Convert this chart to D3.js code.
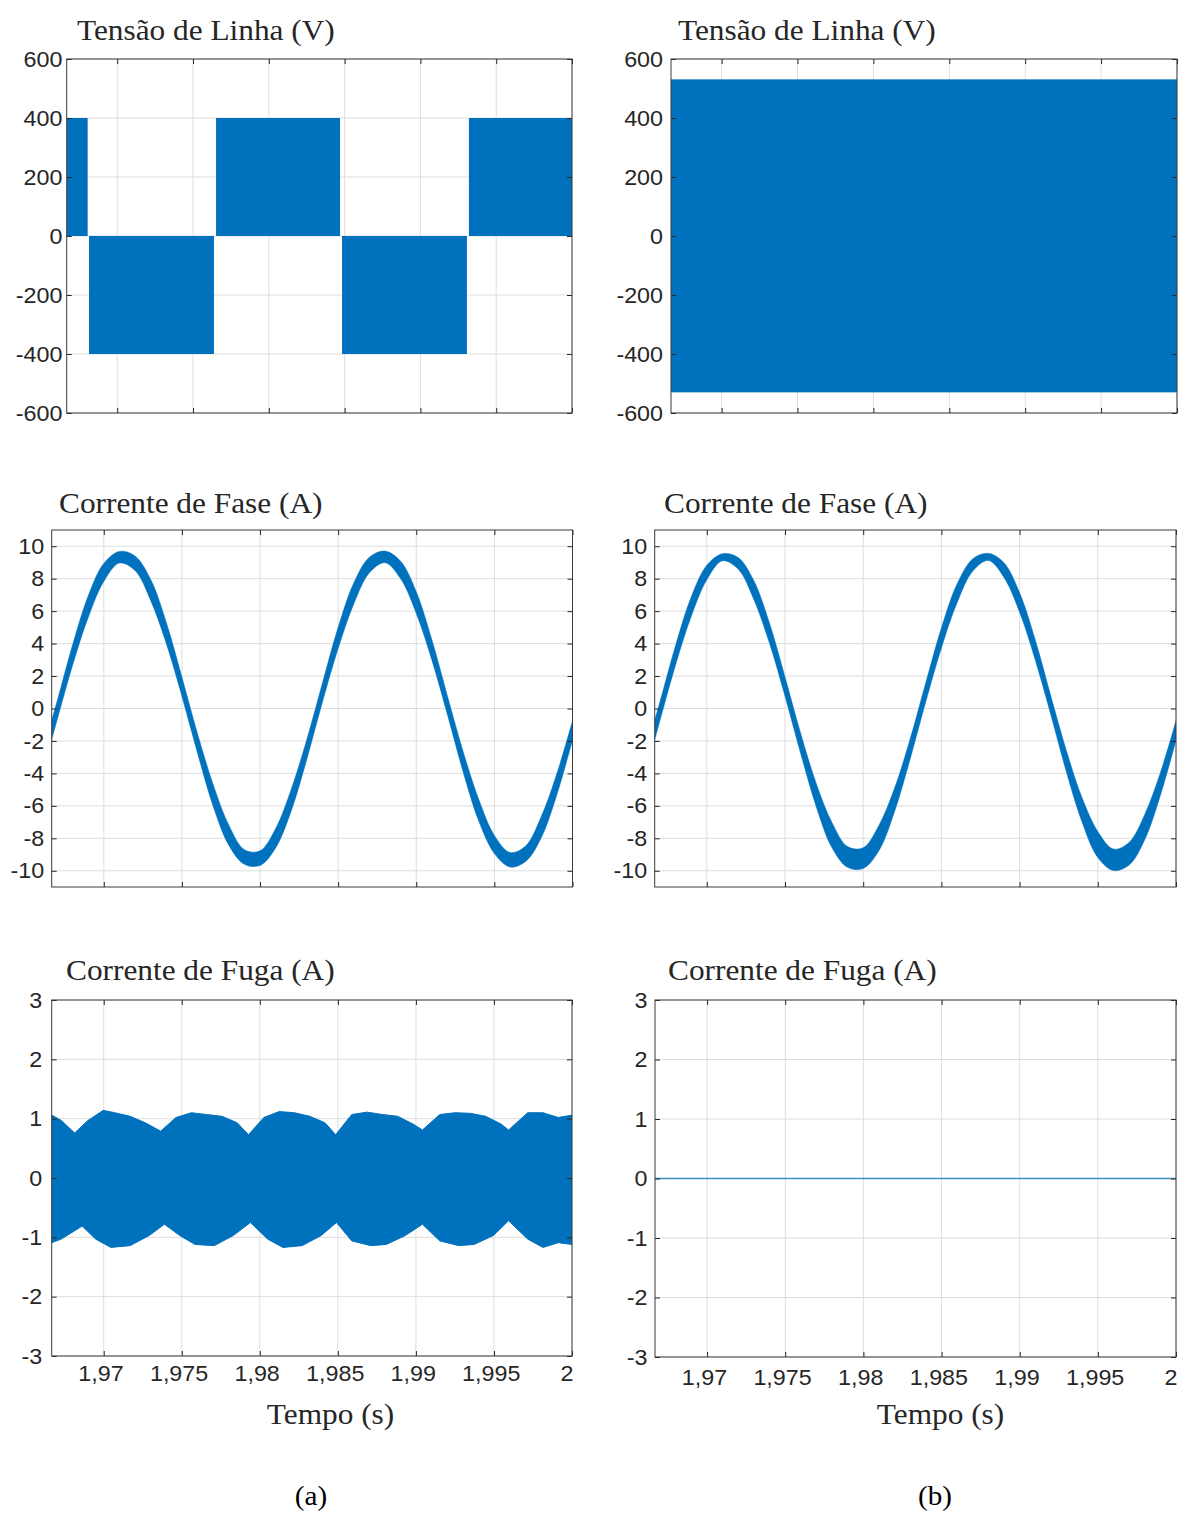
<!DOCTYPE html>
<html>
<head>
<meta charset="utf-8">
<script src="https://cdn.jsdelivr.net/npm/d3@7"></script>
<style>
  body { margin: 0; background: #fff; }
  svg { display: block; }
</style>
</head>
<body>
<div id="chart"></div>
<script>
var width = 1179,
    height = 1513,
    tStart = 1.966667,
    tEnd = 2,
    blue = "#0072BD";

// x axis (tempo)
var timeTicks = [1.97, 1.975, 1.98, 1.985, 1.99, 1.995, 2];
var timeLabels = ["1,97", "1,975", "1,98", "1,985", "1,99", "1,995", "2"];

// y ticks
var voltTicks = [-600, -400, -200, 0, 200, 400, 600];
var phaseTicks = [-10, -8, -6, -4, -2, 0, 2, 4, 6, 8, 10];
var leakTicks = [-3, -2, -1, 0, 1, 2, 3];

// tensao de linha (a): PWM blocks
var vBlockStart = [1.966667, 1.96814, 1.97652, 1.98483, 1.99320];
var vBlockEnd   = [1.96805, 1.97638, 1.98470, 1.99307, 2.0];
var vBlockLow   = [0, -400, 0, -400, 0];
var vBlockHigh  = [400, 0, 400, 0, 400];

// tensao de linha (b): one band
var vBandStart = [1.966667];
var vBandEnd   = [2.0];
var vBandLow   = [-530];
var vBandHigh  = [531];

// corrente de fase: ripple envelope
var phaseTime = [1.966, 1.967, 1.968, 1.969, 1.970, 1.971, 1.972, 1.973, 1.974, 1.975,
                 1.976, 1.977, 1.978, 1.979, 1.980, 1.981, 1.982, 1.983, 1.984, 1.985,
                 1.986, 1.987, 1.988, 1.989, 1.990, 1.991, 1.992, 1.993, 1.994, 1.995,
                 1.996, 1.997, 1.998, 1.999, 2.000];
var phaseUpperA = [-2.98, 0.40, 3.91, 6.94, 8.94, 9.68, 9.40, 7.96, 5.31, 1.94,
                   -1.55, -4.68, -7.18, -8.70, -8.77, -7.39, -4.97, -1.89, 1.59, 5.00,
                   7.74, 9.32, 9.70, 9.07, 7.20, 4.24, 0.76, -2.65, -5.60, -7.82,
                   -8.87, -8.47, -6.66, -4.01, -0.76];
var phaseLowerA = [-4.24, -0.76, 2.65, 5.60, 7.82, 8.96, 8.50, 6.66, 4.01, 0.76,
                   -2.75, -6.02, -8.42, -9.60, -9.67, -8.59, -6.31, -3.11, 0.41, 3.70,
                   6.44, 8.36, 8.98, 7.99, 5.86, 2.98, -0.40, -3.91, -6.94, -8.94,
                   -9.77, -9.43, -7.96, -5.31, -1.94];
var phaseUpperB = [-2.95, 0.40, 3.88, 6.87, 8.83, 9.54, 9.31, 7.89, 5.28, 1.94,
                   -1.53, -4.63, -7.02, -8.51, -8.58, -7.21, -4.92, -1.88, 1.59, 4.97,
                   7.67, 9.22, 9.56, 8.98, 7.13, 4.23, 0.76, -2.62, -5.52, -7.58,
                   -8.66, -8.25, -6.53, -3.96, -0.75];
var phaseLowerB = [-4.27, -0.76, 2.68, 5.67, 7.93, 9.10, 8.59, 6.73, 4.04, 0.76,
                   -2.77, -6.07, -8.58, -9.79, -9.86, -8.77, -6.36, -3.12, 0.41, 3.73,
                   6.51, 8.46, 9.12, 8.08, 5.93, 2.99, -0.40, -3.94, -7.02, -9.18,
                   -9.98, -9.65, -8.09, -5.36, -1.95];

// corrente de fuga (a): envelope of the switching band
var leakUpTime = [1.96667, 1.96728, 1.96814, 1.96899, 1.96997, 1.97071, 1.97169, 1.97267, 1.97365, 1.97463,
                  1.97561, 1.97659, 1.97757, 1.97855, 1.97928, 1.98026, 1.98124, 1.98222, 1.98320, 1.98418,
                  1.98486, 1.98589, 1.98687, 1.98785, 1.98883, 1.98981, 1.99042, 1.99153, 1.99251, 1.99349,
                  1.99447, 1.99545, 1.99594, 1.99716, 1.99814, 1.99912, 2.0];
var leakUpVal = [1.06, 0.97, 0.76, 0.97, 1.14, 1.10, 1.04, 0.93, 0.79, 1.02,
                 1.10, 1.07, 1.04, 0.93, 0.73, 1.02, 1.12, 1.10, 1.04, 0.93,
                 0.73, 1.07, 1.11, 1.07, 1.04, 0.91, 0.81, 1.07, 1.10, 1.09,
                 1.04, 0.91, 0.81, 1.10, 1.10, 1.02, 1.06];
var leakLowTime = [1.96667, 1.96728, 1.96862, 1.96948, 1.97046, 1.97169, 1.97291, 1.97389, 1.97487, 1.97585,
                   1.97708, 1.97830, 1.97940, 1.98050, 1.98148, 1.98271, 1.98393, 1.98491, 1.98589, 1.98712,
                   1.98810, 1.98932, 1.99042, 1.99153, 1.99275, 1.99373, 1.99496, 1.99594, 1.99716, 1.99814,
                   1.99912, 2.0];
var leakLowVal = [-1.09, -1.03, -0.81, -1.03, -1.17, -1.14, -0.97, -0.78, -0.97, -1.12,
                  -1.14, -0.97, -0.75, -1.03, -1.17, -1.14, -0.97, -0.75, -1.06, -1.14,
                  -1.12, -0.97, -0.78, -1.06, -1.14, -1.12, -0.97, -0.72, -1.03, -1.17,
                  -1.09, -1.12];

// corrente de fuga (b): flat
var leakBTime = [1.966667, 2.0];
var leakBVal = [0, 0];

var svg = d3.select("#chart").append("svg")
    .attr("width", width)
    .attr("height", height);

var panels = [
  {id: "a1", x0: 66.7, x1: 572, y0: 59, y1: 413, dom: [-600, 600], ticks: voltTicks,
   title: "Tensão de Linha (V)", tx: 77, ty: 40, gap: 4, kind: "blocks",
   s: vBlockStart, e: vBlockEnd, lo: vBlockLow, hi: vBlockHigh},
  {id: "b1", x0: 671, x1: 1177, y0: 59, y1: 413, dom: [-600, 600], ticks: voltTicks,
   title: "Tensão de Linha (V)", tx: 678, ty: 40, gap: 7.5, kind: "blocks",
   s: vBandStart, e: vBandEnd, lo: vBandLow, hi: vBandHigh},
  {id: "a2", x0: 51.7, x1: 572.5, y0: 530, y1: 887, dom: [-11, 11], ticks: phaseTicks,
   title: "Corrente de Fase (A)", tx: 59, ty: 513, gap: 7, kind: "env",
   t: phaseTime, up: phaseUpperA, low: phaseLowerA},
  {id: "b2", x0: 654.7, x1: 1176, y0: 530, y1: 887, dom: [-11, 11], ticks: phaseTicks,
   title: "Corrente de Fase (A)", tx: 664, ty: 513, gap: 7, kind: "env",
   t: phaseTime, up: phaseUpperB, low: phaseLowerB},
  {id: "a3", x0: 51.7, x1: 572, y0: 1000, y1: 1356, dom: [-3, 3], ticks: leakTicks,
   title: "Corrente de Fuga (A)", tx: 66, ty: 980, gap: 9, kind: "leak", xpad: 9,
   xlab: "Tempo (s)", xlx: 330.5, sub: "(a)", subx: 311},
  {id: "b3", x0: 655, x1: 1176, y0: 1000, y1: 1357, dom: [-3, 3], ticks: leakTicks,
   title: "Corrente de Fuga (A)", tx: 668, ty: 980, gap: 7, kind: "flat", xpad: 12,
   xlab: "Tempo (s)", xlx: 940.5, sub: "(b)", subx: 935}
];

var stretch = "scale(1.08,1)";

panels.forEach(function(p) {
  var x = d3.scaleLinear().domain([tStart, tEnd]).range([p.x0, p.x1]);
  var y = d3.scaleLinear().domain(p.dom).range([p.y1, p.y0]);
  var g = svg.append("g");

  g.append("clipPath").attr("id", "clip-" + p.id)
    .append("rect")
    .attr("x", p.x0).attr("y", p.y0)
    .attr("width", p.x1 - p.x0).attr("height", p.y1 - p.y0);

  // grid
  g.selectAll(".vgrid").data(timeTicks).enter().append("line")
    .attr("x1", d => x(d)).attr("x2", d => x(d))
    .attr("y1", p.y0).attr("y2", p.y1)
    .style("stroke", "#dedede").style("stroke-width", 1);
  g.selectAll(".hgrid").data(p.ticks).enter().append("line")
    .attr("x1", p.x0).attr("x2", p.x1)
    .attr("y1", d => y(d)).attr("y2", d => y(d))
    .style("stroke", "#dedede").style("stroke-width", 1);

  var plot = g.append("g").attr("clip-path", "url(#clip-" + p.id + ")");

  if (p.kind == "blocks") {
    plot.selectAll("rect").data(d3.range(p.s.length)).enter().append("rect")
      .attr("x", i => x(p.s[i]))
      .attr("width", i => x(p.e[i]) - x(p.s[i]))
      .attr("y", i => y(p.hi[i]))
      .attr("height", i => y(p.lo[i]) - y(p.hi[i]))
      .style("fill", blue);
  } else if (p.kind == "env") {
    var area = d3.area()
      .curve(d3.curveCatmullRom)
      .x(i => x(p.t[i]))
      .y0(i => y(p.low[i]))
      .y1(i => y(p.up[i]));
    plot.append("path")
      .datum(d3.range(p.t.length))
      .attr("d", area)
      .style("fill", blue)
      .style("stroke", blue)
      .style("stroke-width", 0.5);
  } else if (p.kind == "leak") {
    var pts = leakUpTime.map((t, i) => [x(t), y(leakUpVal[i])]);
    for (var i = leakLowTime.length - 1; i >= 0; i--) {
      pts.push([x(leakLowTime[i]), y(leakLowVal[i])]);
    }
    plot.append("path")
      .attr("d", d3.line()(pts) + "Z")
      .style("fill", blue)
      .style("stroke", blue)
      .style("stroke-width", 1);
  } else {
    plot.append("path")
      .datum(d3.range(leakBTime.length))
      .attr("d", d3.line().x(i => x(leakBTime[i])).y(i => y(leakBVal[i])))
      .style("fill", "none")
      .style("stroke", blue)
      .style("stroke-opacity", 0.75)
      .style("stroke-width", 1.6);
  }

  // ticks on all four sides, pointing inward
  g.append("g").attr("transform", "translate(" + p.x0 + ",0)")
    .call(d3.axisLeft(y).tickValues(p.ticks).tickSize(-5).tickPadding(p.gap)
      .tickFormat(d => String(d)));
  g.append("g").attr("transform", "translate(" + p.x1 + ",0)")
    .call(d3.axisRight(y).tickValues(p.ticks).tickSize(-5).tickFormat(""));
  g.append("g").attr("transform", "translate(0," + p.y0 + ")")
    .call(d3.axisTop(x).tickValues(timeTicks).tickSize(-5).tickFormat(""));
  var bottom = g.append("g").attr("transform", "translate(0," + p.y1 + ")")
    .call(d3.axisBottom(x).tickValues(timeTicks).tickSize(-5).tickPadding(p.xpad || 9)
      .tickFormat((d, i) => p.xlab ? timeLabels[i] : ""));

  g.selectAll(".domain").remove();
  g.selectAll(".tick line").style("stroke", "#262626");
  g.selectAll(".tick text")
    .style("font-family", "'Liberation Sans', Arial, sans-serif")
    .style("font-size", "22px")
    .style("fill", "#262626")
    .attr("transform", "scale(1.06,1)");
  bottom.selectAll(".tick text")
    .attr("x", d => d == 2 ? 1 : -3)
    .attr("text-anchor", d => d == 2 ? "end" : "middle");

  // frame
  g.append("rect")
    .attr("x", p.x0).attr("y", p.y0)
    .attr("width", p.x1 - p.x0).attr("height", p.y1 - p.y0)
    .style("fill", "none")
    .style("stroke", "#3a3a3a")
    .style("stroke-width", 1);

  // title
  g.append("text")
    .attr("transform", "translate(" + p.tx + "," + p.ty + ") " + stretch)
    .style("font-family", "'Liberation Serif', 'Times New Roman', serif")
    .style("font-size", "29px")
    .style("fill", "#262626")
    .text(p.title);

  if (p.xlab) {
    g.append("text")
      .attr("transform", "translate(" + p.xlx + ",1424) " + stretch)
      .attr("text-anchor", "middle")
      .style("font-family", "'Liberation Serif', 'Times New Roman', serif")
      .style("font-size", "29px")
      .style("fill", "#262626")
      .text(p.xlab);
    g.append("text")
      .attr("transform", "translate(" + p.subx + ",1505) " + stretch)
      .attr("text-anchor", "middle")
      .style("font-family", "'Liberation Serif', 'Times New Roman', serif")
      .style("font-size", "27px")
      .style("fill", "#000")
      .text(p.sub);
  }
});
</script>
</body>
</html>
